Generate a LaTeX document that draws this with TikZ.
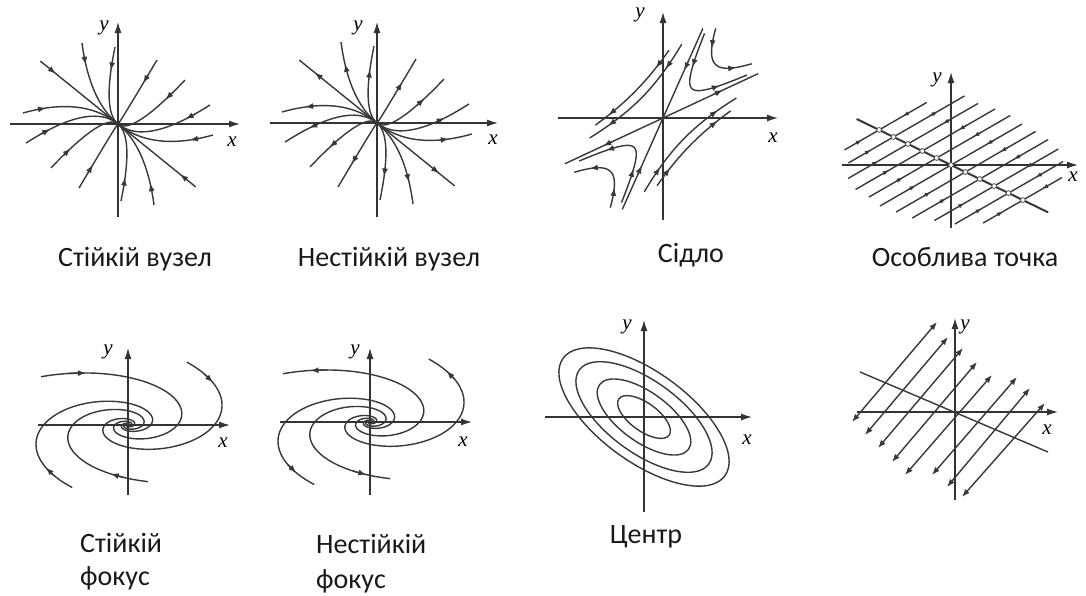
\documentclass[tikz,border=0pt]{standalone}
\usepackage{fontspec}
\setmainfont{Carlito}
\newfontfamily\lserif{Liberation Serif}
\usepackage{tikz}
\usetikzlibrary{arrows.meta}

\begin{document}
\begin{tikzpicture}[x=1pt,y=-1pt,
  axis/.style={line width=1.3pt,black!80,-{Latex[length=11pt,width=7pt]}},
  traj/.style={line width=1.4pt,black!78},
  alabel/.style={font=\lserif\itshape\fontsize{21}{21}\selectfont},
  caption/.style={font=\fontsize{28}{34}\selectfont,text=black!90,inner sep=0pt},
  tipe/.style={-{Latex[length=8pt,width=6pt]}},
  tips/.style={{Latex[length=8pt,width=6pt]}-},
  tipsmall/.style={-{Latex[length=6pt,width=4.5pt]}},
  ends/.style={{Latex[length=8pt,width=6pt]}-{Latex[length=8pt,width=6pt]}}]

\useasboundingbox (0,0) rectangle (1086,595);

% stable node
\begin{scope}[shift={(118,124)},yscale=-1]
\draw[axis] (-108,0) -- (122,0);
\draw[axis] (0,-93) -- (0,102);
\node[alabel] (y1) at (-14,96) {y};
\node[alabel] (x1) at (114,-18) {x};
\foreach \a/\b in {-100/0,-72.6/40.8,-41.6/58.7,1.8/75.2,36.5/77.3,71/73.6,88.9/51.9,
                   100/0,72.6/-40.8,41.6/-58.7,-1.8/-75.2,-36.5/-77.3,-71/-73.6,-88.9/-51.9}
{
  \draw[traj] plot[domain=0:1,variable=\q,samples=25,smooth]
    ({(\a)*\q*cos(-39)+(\b)*\q*\q*cos(60)},{(\a)*\q*sin(-39)+(\b)*\q*\q*sin(60)});
  \draw[traj,tips] plot[domain=0.8:0.88,variable=\q,samples=2]
    ({(\a)*\q*cos(-39)+(\b)*\q*\q*cos(60)},{(\a)*\q*sin(-39)+(\b)*\q*\q*sin(60)});
}
\end{scope}

% unstable node
\begin{scope}[shift={(377,123)},yscale=-1]
\draw[axis] (-107,0) -- (121,0);
\draw[axis] (0,-94) -- (0,101);
\node[alabel] (y2) at (-19,95) {y};
\node[alabel] (x2) at (116,-17) {x};
\foreach \a/\b in {-100/0,-72.6/40.8,-41.6/58.7,1.8/75.2,36.5/77.3,71/73.6,88.9/51.9,
                   100/0,72.6/-40.8,41.6/-58.7,-1.8/-75.2,-36.5/-77.3,-71/-73.6,-88.9/-51.9}
{
  \draw[traj] plot[domain=0:1,variable=\q,samples=25,smooth]
    ({(\a)*\q*cos(-39)+(\b)*\q*\q*cos(60)},{(\a)*\q*sin(-39)+(\b)*\q*\q*sin(60)});
  \draw[traj,tipe] plot[domain=0.72:0.8,variable=\q,samples=2]
    ({(\a)*\q*cos(-39)+(\b)*\q*\q*cos(60)},{(\a)*\q*sin(-39)+(\b)*\q*\q*sin(60)});
}
\end{scope}

% saddle
\begin{scope}[shift={(663,118)},yscale=-1]
\draw[axis] (-105,0) -- (115,0);
\draw[axis] (0,-102) -- (0,106);
\node[alabel] (y3) at (-23,103) {y};
\node[alabel] (x3) at (110,-20) {x};
\draw[traj] (66:98) -- (246:100);
\draw[traj] (25:105) -- (205:108);
\draw[traj,tipe] (66:62) -- (66:52);
\draw[traj,tipe] (246:62) -- (246:52);
\draw[traj,tipe] (25:56) -- (25:66);
\draw[traj,tipe] (205:56) -- (205:66);
\foreach \r/\sa/\sb/\T in {22/1/1/1.41,40/1/1/0.81,42/1/-1/0.76,55/1/-1/0.49,
                           22/-1/-1/1.41,40/-1/-1/0.81,42/-1/1/0.76,55/-1/1/0.49}
{
  \draw[traj] plot[domain=-\T:\T,variable=\q,samples=30,smooth]
    ({(\sa)*\r*exp(-(\q))*cos(66)+(\sb)*\r*exp(\q)*cos(25)},
     {(\sa)*\r*exp(-(\q))*sin(66)+(\sb)*\r*exp(\q)*sin(25)});
  \draw[traj,tipe] plot[domain=-0.7*\T:-0.6*\T,variable=\q,samples=2]
    ({(\sa)*\r*exp(-(\q))*cos(66)+(\sb)*\r*exp(\q)*cos(25)},
     {(\sa)*\r*exp(-(\q))*sin(66)+(\sb)*\r*exp(\q)*sin(25)});
  \draw[traj,tipe] plot[domain=0.6*\T:0.7*\T,variable=\q,samples=2]
    ({(\sa)*\r*exp(-(\q))*cos(66)+(\sb)*\r*exp(\q)*cos(25)},
     {(\sa)*\r*exp(-(\q))*sin(66)+(\sb)*\r*exp(\q)*sin(25)});
}
\end{scope}

% line of singular points, stable
\begin{scope}[shift={(951,165)},yscale=-1]
\draw[axis] (-109,0) -- (127,0);
\draw[axis] (0,-63) -- (0,93);
\node[alabel] (y4) at (-14,85) {y};
\node[alabel] (x4) at (122,-12) {x};
\foreach \a/\ta/\tb in {-80/-40/55,-64/-52/82,-48/-69/81,-32/-77/84,-16/-78/85,0/-82/82,
                        16/-80/81,32/-78/79,48/-69/74,64/-62/63,80/-46/45}
{
  \draw[traj] ({(\a)*cos(-26)+(\ta)*cos(30)},{(\a)*sin(-26)+(\ta)*sin(30)})
    -- ({(\a)*cos(-26)+(\tb)*cos(30)},{(\a)*sin(-26)+(\tb)*sin(30)});
  \draw[traj,tipsmall] ({(\a)*cos(-26)+0.6*(\ta)*cos(30)},{(\a)*sin(-26)+0.6*(\ta)*sin(30)})
    -- ({(\a)*cos(-26)+0.5*(\ta)*cos(30)},{(\a)*sin(-26)+0.5*(\ta)*sin(30)});
  \draw[traj,tipsmall] ({(\a)*cos(-26)+0.6*(\tb)*cos(30)},{(\a)*sin(-26)+0.6*(\tb)*sin(30)})
    -- ({(\a)*cos(-26)+0.5*(\tb)*cos(30)},{(\a)*sin(-26)+0.5*(\tb)*sin(30)});
}
\draw[traj,line width=2pt] (154:105) -- (-26:108);
\foreach \a in {-80,-64,...,80}
  \draw[line width=0.8pt,black!70,fill=white] ({(\a)*cos(-26)},{(\a)*sin(-26)}) circle (2.4);
\end{scope}

% stable focus
\begin{scope}[shift={(128,425)},yscale=-1]
\draw[axis] (-90,0) -- (102,0);
\draw[axis] (0,-70) -- (0,77);
\node[alabel] (y5) at (-20,73) {y};
\node[alabel] (x5) at (95,-18) {x};
\foreach \R/\th in {130/132,139/65,137/246,115/280}
{
  \draw[traj] plot[domain=0:560,variable=\q,samples=130,smooth]
    ({\R*exp(-0.42*\q*pi/180)*cos(\th-\q)},{\R*exp(-0.42*\q*pi/180)*0.5*sin(\th-\q)});
  \draw[traj,tipe] plot[domain=12:20,variable=\q,samples=2]
    ({\R*exp(-0.42*\q*pi/180)*cos(\th-\q)},{\R*exp(-0.42*\q*pi/180)*0.5*sin(\th-\q)});
}
\end{scope}

% unstable focus
\begin{scope}[shift={(370,422)},yscale=-1]
\draw[axis] (-90,0) -- (102,0);
\draw[axis] (0,-73) -- (0,74);
\node[alabel] (y6) at (-15,70) {y};
\node[alabel] (x6) at (93,-20) {x};
\foreach \R/\th in {130/132,139/65,137/246,115/280}
{
  \draw[traj] plot[domain=0:560,variable=\q,samples=130,smooth]
    ({\R*exp(-0.42*\q*pi/180)*cos(\th-\q)},{\R*exp(-0.42*\q*pi/180)*0.5*sin(\th-\q)});
  \draw[traj,tips] plot[domain=12:20,variable=\q,samples=2]
    ({\R*exp(-0.42*\q*pi/180)*cos(\th-\q)},{\R*exp(-0.42*\q*pi/180)*0.5*sin(\th-\q)});
}
\end{scope}

% centre
\begin{scope}[shift={(644,417)},yscale=-1]
\draw[axis] (-99,0) -- (108,0);
\draw[axis] (0,-95) -- (0,97);
\node[alabel] (y7) at (-17,90) {y};
\node[alabel] (x7) at (103,-23) {x};
\foreach \s in {1,0.8,0.55,0.31}
  \draw[traj] (0,0) ellipse [x radius={100*\s},y radius={45*\s},rotate=36];
\end{scope}

% line of singular points, unstable
\begin{scope}[shift={(955,412)},yscale=-1]
\draw[axis] (-98,0) -- (103,0);
\draw[axis] (0,-88) -- (0,94);
\node[alabel] (y8) at (10,85) {y};
\node[alabel] (x8) at (92,-18) {x};
\draw[traj] (-95,40) -- (93,-40);
\foreach \px/\py/\qx/\qy in {-103/-10/-18/90,-90/-23/-7/75,-77/-36/8/64,-63/-50/22/50,
                             -50/-63/37/37,-23/-63/62/35,-8/-75/75/24,7/-85/90/9}
  \draw[traj,ends] (\px,\py) -- (\qx,\qy);
\end{scope}

\node[caption,anchor=base] (cap1) at (135,266) {Стійкій вузел};
\node[caption,anchor=base] (cap2) at (389,266) {Нестійкій вузел};
\node[caption,anchor=base] (cap3) at (691,262) {Сідло};
\node[caption,anchor=base] (cap4) at (965,266) {Особлива точка};
\node[caption,anchor=base west] (cap5a) at (80,552) {Стійкій};
\node[caption,anchor=base west] (cap5b) at (80,585) {фокус};
\node[caption,anchor=base west] (cap6a) at (316,553) {Нестійкій};
\node[caption,anchor=base west] (cap6b) at (316,588) {фокус};
\node[caption,anchor=base] (cap7) at (646,543) {Центр};

\end{tikzpicture}
\end{document}
